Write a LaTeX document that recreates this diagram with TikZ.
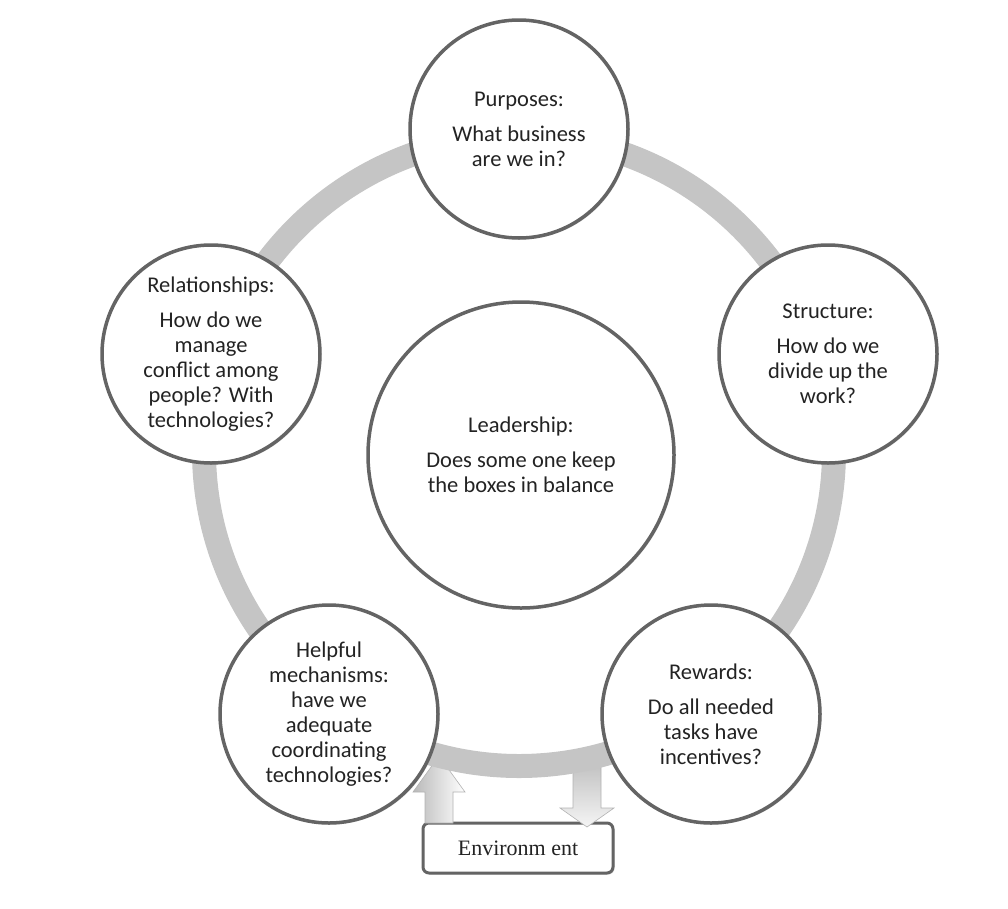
\documentclass[tikz,border=0pt]{standalone}
\usepackage{fontspec}
\setmainfont{Carlito}
\newfontfamily\envfont{Liberation Serif}
\usetikzlibrary{shadows}
\definecolor{edgec}{RGB}{100,100,100}
\definecolor{ringcol}{RGB}{197,197,197}
\definecolor{txtc}{RGB}{35,35,35}
\tikzset{
  bubble/.style={circle, draw=edgec, line width=3.5pt, fill=white, inner sep=0pt,
    align=center, text=txtc, font=\fontsize{22.5}{25}\selectfont,
    drop shadow={shadow xshift=1.5pt, shadow yshift=-1.5pt, opacity=0.25}},
  envbox/.style={draw=edgec, line width=3pt, rounded corners=6pt, fill=white,
    minimum width=190pt, minimum height=50pt, inner sep=0pt,
    font=\envfont\fontsize{22}{26}\selectfont, text=txtc,
    drop shadow={shadow xshift=1.5pt, shadow yshift=-1.5pt, opacity=0.25}},
  blockarrow/.style={draw=gray!60, line width=0.6pt}
}
\begin{document}
\begin{tikzpicture}[x=1pt, y=-1pt]
\useasboundingbox (0,0) rectangle (1008,908);
\coordinate (rc) at (519,451);
% environment box
\node[envbox] (env) at (518,848) {Environm ent};
% block arrows
\path[blockarrow, left color=gray!55, right color=white]
  (425,823) -- (425,792) -- (413,792) -- (439,756) -- (465,792) -- (453,792) -- (453,823) -- cycle;
\path[blockarrow, top color=gray!50, bottom color=gray!8]
  (573,760) -- (573,808) -- (560,808) -- (587,827) -- (614,808) -- (601,808) -- (601,760) -- cycle;
% ring
\draw[ringcol, line width=24pt] (rc) circle[radius=315];
% circles
\node[bubble, minimum size=306pt] (lead) at (521,455)
  {Leadership:\\[10pt]Does some one keep\\the boxes in balance};
\node[bubble, minimum size=218pt] (pur) at (519,129)
  {Purposes:\\[10pt]What business\\are we in?};
\node[bubble, minimum size=218pt] (str) at (828,354)
  {Structure:\\[10pt]How do we\\divide up the\\work?};
\node[bubble, minimum size=218pt] (rew) at (711,714)
  {Rewards:\\[10pt]Do all needed\\tasks have\\incentives?};
\node[bubble, minimum size=218pt] (help) at (329,714)
  {Helpful\\mechanisms:\\have we\\adequate\\coordinating\\technologies?};
\node[bubble, minimum size=218pt] (rel) at (211,354)
  {Relationships:\\[10pt]How do we\\manage\\conflict among\\people? With\\technologies?};
\end{tikzpicture}
\end{document}
